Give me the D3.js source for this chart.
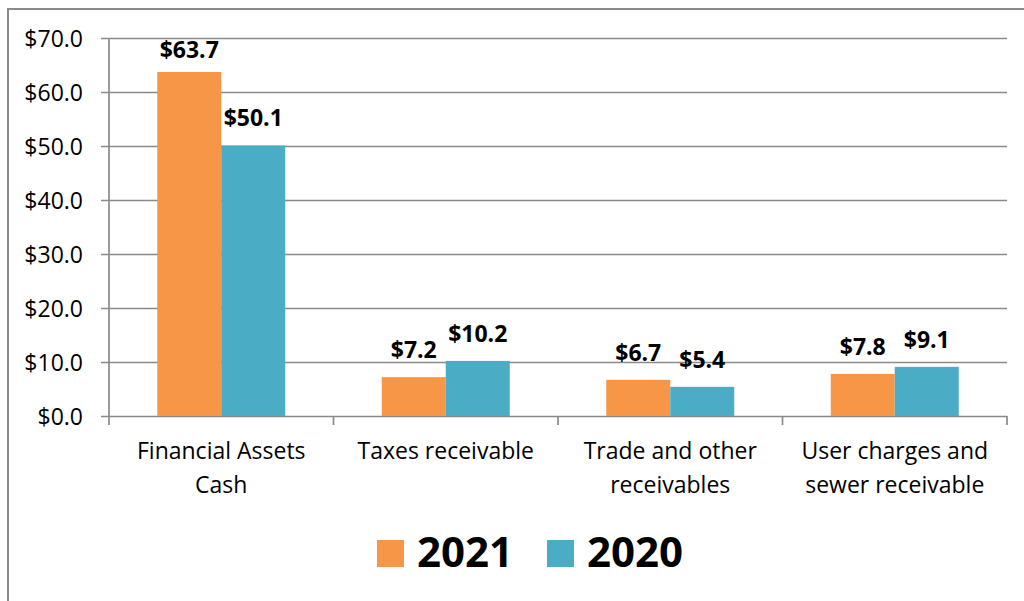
<!DOCTYPE html>
<html>
<head>
<meta charset="utf-8">
<script src="https://cdn.jsdelivr.net/npm/d3@7"></script>
<style>
	body { margin: 0; background: #fff; }
	svg text { font-family: "Open Sans", Lato, sans-serif; fill: #000; }
</style>
</head>
<body>
<div id="chart"></div>
<script>

// data
const categories = [["Financial Assets", "Cash"], ["Taxes receivable"], ["Trade and other", "receivables"], ["User charges and", "sewer receivable"]];
const seriesNames = ["2021", "2020"];
const values2021 = [63.7, 7.2, 6.7, 7.8];
const values2020 = [50.1, 10.2, 5.4, 9.1];
const yTicks = [0, 10, 20, 30, 40, 50, 60, 70];

const colors = ["#F79646", "#4BACC6"];
const width = 1024;
const height = 601;
const margin = {top: 38, right: 17, bottom: 185, left: 109};

let svg = d3.select("#chart")
	.append("svg")
	.attr("width", width)
	.attr("height", height);

// outer frame (right/bottom edges are off the picture)
svg.append("rect")
	.attr("x", 8)
	.attr("y", 9)
	.attr("width", 1200)
	.attr("height", 800)
	.attr("fill", "none")
	.attr("stroke", "#8a8a8a")
	.attr("stroke-width", 2);

let x0 = d3.scaleBand()
	.domain(d3.range(categories.length))
	.range([margin.left, width - margin.right])
	.padding(0);

let x1 = d3.scaleBand()
	.domain(seriesNames)
	.range([0, x0.bandwidth()])
	.paddingInner(0)
	.paddingOuter(0.754);

let y = d3.scaleLinear()
	.domain([0, 70])
	.range([height - margin.bottom, margin.top]);

// gridlines + y axis
let yAxis = svg.append("g")
	.attr("transform", "translate(" + margin.left + ",0)")
	.call(d3.axisLeft(y)
		.tickValues(yTicks)
		.tickSize(-(width - margin.left - margin.right))
		.tickSizeOuter(0)
		.tickFormat(d => "$" + d3.format(".1f")(d)));

yAxis.select(".domain").remove();
yAxis.selectAll(".tick line")
	.attr("x1", -8)
	.attr("stroke", "#8a8a8a")
	.attr("stroke-width", 1.7);
yAxis.selectAll(".tick text")
	.attr("x", -26)
	.attr("dy", "0.35em")
	.attr("font-size", "23px");

svg.append("line")
	.attr("x1", margin.left)
	.attr("x2", margin.left)
	.attr("y1", margin.top)
	.attr("y2", y(0) + 9)
	.attr("stroke", "#8a8a8a")
	.attr("stroke-width", 1.7);

// category ticks
let catTicks = d3.range(categories.length + 1).map(i => i < categories.length ? x0(i) : x0(i - 1) + x0.bandwidth());
svg.selectAll(".cat-tick")
	.data(catTicks.slice(1))
	.join("line")
	.attr("class", "cat-tick")
	.attr("x1", d => d)
	.attr("x2", d => d)
	.attr("y1", y(0))
	.attr("y2", y(0) + 9)
	.attr("stroke", "#8a8a8a")
	.attr("stroke-width", 1.7);

// bars
const allSeries = [values2021, values2020];
seriesNames.forEach((name, s) => {
	let g = svg.append("g").attr("class", "series-" + name);

	g.selectAll("rect")
		.data(allSeries[s])
		.join("rect")
		.attr("x", (d, i) => x0(i) + x1(name))
		.attr("y", d => y(d))
		.attr("width", x1.bandwidth())
		.attr("height", d => y(0) - y(d))
		.attr("fill", colors[s]);

	g.selectAll("text")
		.data(allSeries[s])
		.join("text")
		.attr("x", (d, i) => x0(i) + x1(name) + x1.bandwidth() / 2)
		.attr("y", d => Math.max(y(d) - 19, margin.top + 20))
		.attr("text-anchor", "middle")
		.attr("font-size", "23px")
		.attr("font-weight", "bold")
		.text(d => "$" + d3.format(".1f")(d));
});

// category labels
let catLabels = svg.selectAll(".cat-label")
	.data(categories)
	.join("text")
	.attr("class", "cat-label")
	.attr("text-anchor", "middle")
	.attr("font-size", "23px");

catLabels.selectAll("tspan")
	.data((d, i) => d.map(line => ({line: line, i: i})))
	.join("tspan")
	.attr("x", d => x0(d.i) + x0.bandwidth() / 2)
	.attr("y", (d, j) => 459 + j * 34)
	.text(d => d.line);

// legend
let legend = svg.append("g").attr("class", "legend");
const legendX = [377, 547];
seriesNames.forEach((name, s) => {
	legend.append("rect")
		.attr("x", legendX[s])
		.attr("y", 540)
		.attr("width", 27)
		.attr("height", 27)
		.attr("fill", colors[s]);

	legend.append("text")
		.attr("x", legendX[s] + 40)
		.attr("y", 567)
		.attr("font-size", "42px")
		.attr("font-weight", "bold")
		.text(name);
});

</script>
</body>
</html>
